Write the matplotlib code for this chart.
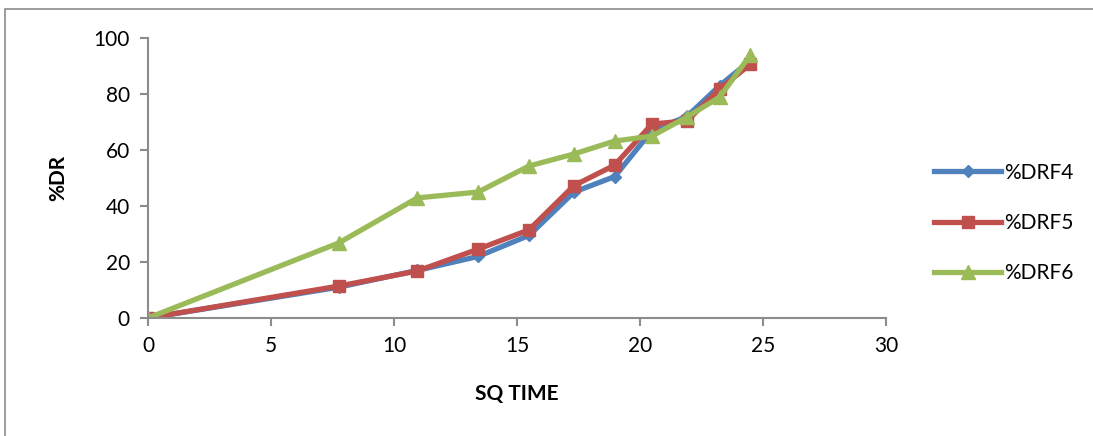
import matplotlib
matplotlib.use('Agg')
import matplotlib.pyplot as plt
from matplotlib.patches import Rectangle

plt.rcParams['font.family'] = ['Lato', 'DejaVu Sans']

# square root of time (min) and % drug released per formulation
sq_time = [0, 7.75, 10.95, 13.42, 15.49, 17.32, 18.97, 20.49, 21.91, 23.24, 24.49]
drf4 = [0, 11.0, 17.0, 22.0, 29.5, 45.0, 50.5, 67.0, 72.0, 83.0, 92.0]
drf5 = [0, 11.4, 16.8, 24.6, 31.5, 47.3, 54.6, 69.3, 70.4, 81.8, 90.7]
drf6 = [0, 26.8, 42.9, 45.0, 54.3, 58.6, 63.2, 65.0, 71.8, 78.9, 94.0]

fig = plt.figure(figsize=(10.93, 4.36), dpi=100)
ax = fig.add_axes([0.1354, 0.2706, 0.6752, 0.6422])

ax.plot(sq_time, drf4, color='#4F81BD', lw=3.8, marker='D', ms=6, label='%DRF4')
ax.plot(sq_time, drf5, color='#C0504D', lw=3.8, marker='s', ms=9, label='%DRF5')
ax.plot(sq_time, drf6, color='#9BBB59', lw=3.8, marker='^', ms=10, label='%DRF6')

ax.set_xlim(0, 30)
ax.set_ylim(0, 100)
ax.set_xticks(range(0, 31, 5))
ax.set_yticks(range(0, 101, 20))
for side in ['top', 'right']:
    ax.spines[side].set_visible(False)
for side in ['left', 'bottom']:
    ax.spines[side].set_color('#8c8c8c')
    ax.spines[side].set_linewidth(1.5)
ax.tick_params(direction='out', length=6, width=1.5, color='#8c8c8c',
               labelsize=15, pad=7)
ax.set_xlabel('SQ TIME', fontsize=15, fontweight='bold', labelpad=20)
ax.set_ylabel('%DR', fontsize=15, fontweight='bold', labelpad=18)

leg = ax.legend(loc='center left', bbox_to_anchor=(1.04, 0.34), frameon=False,
                fontsize=15, handlelength=3.2, labelspacing=1.45, handletextpad=0.15)

fig.patches.append(Rectangle((0.005, -0.01), 1.1, 0.99, transform=fig.transFigure,
                             fill=False, edgecolor='#8c8c8c', lw=1.2))

fig.savefig('out.png', dpi=100)
